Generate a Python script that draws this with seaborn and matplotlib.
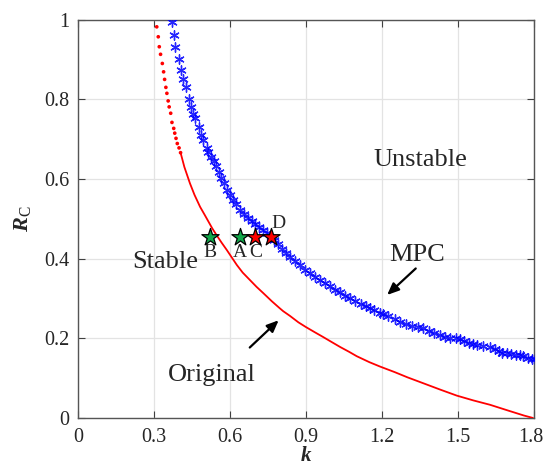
import matplotlib

matplotlib.use("Agg")
import matplotlib.pyplot as plt
import matplotlib.transforms as mtransforms
import pandas as pd
import seaborn as sns

# MPC stability boundary (blue asterisks)
mpc_k = [
    0.370, 0.378, 0.384, 0.398, 0.407, 0.415, 0.426, 0.437, 0.446, 0.454,
    0.463, 0.476, 0.486, 0.495, 0.509, 0.514, 0.525, 0.535, 0.545, 0.555,
    0.565, 0.578, 0.590, 0.600, 0.612, 0.625, 0.640, 0.655, 0.670, 0.685,
    0.700, 0.715, 0.730, 0.745, 0.760, 0.775, 0.790, 0.805, 0.820, 0.837,
    0.855, 0.875, 0.895, 0.916, 0.935, 0.955, 0.975, 0.995, 1.015, 1.035,
    1.055, 1.074, 1.095, 1.115, 1.135, 1.153, 1.170, 1.190, 1.205, 1.225,
    1.250, 1.271, 1.295, 1.320, 1.340, 1.363, 1.385, 1.405, 1.429, 1.450,
    1.470, 1.490, 1.508, 1.525, 1.545, 1.560, 1.574, 1.600, 1.626, 1.645,
    1.660, 1.675, 1.692, 1.710, 1.730, 1.745, 1.758, 1.775, 1.790, 1.804,
]
mpc_r = [
    0.995, 0.962, 0.932, 0.900, 0.873, 0.852, 0.830, 0.800, 0.780, 0.762,
    0.752, 0.731, 0.710, 0.699, 0.677, 0.668, 0.655, 0.645, 0.632, 0.618,
    0.603, 0.590, 0.573, 0.560, 0.548, 0.537, 0.523, 0.512, 0.503, 0.494,
    0.487, 0.479, 0.472, 0.465, 0.455, 0.446, 0.437, 0.425, 0.415, 0.405,
    0.395, 0.383, 0.372, 0.363, 0.354, 0.346, 0.338, 0.330, 0.322, 0.315,
    0.307, 0.300, 0.293, 0.287, 0.280, 0.275, 0.270, 0.264, 0.261, 0.256,
    0.249, 0.242, 0.237, 0.232, 0.229, 0.225, 0.219, 0.213, 0.208, 0.204,
    0.201, 0.200, 0.199, 0.193, 0.189, 0.186, 0.183, 0.181, 0.179, 0.172,
    0.167, 0.164, 0.162, 0.160, 0.159, 0.158, 0.156, 0.151, 0.148, 0.147,
]

# Original stability boundary (red dots / line)
orig_k = [
    0.311, 0.317, 0.321, 0.326, 0.333, 0.338, 0.342, 0.347, 0.351, 0.356,
    0.360, 0.366, 0.371, 0.378, 0.382, 0.387, 0.392, 0.399, 0.405, 0.420,
    0.442, 0.460, 0.482, 0.500, 0.515, 0.530, 0.547, 0.567, 0.587, 0.607,
    0.627, 0.650, 0.679, 0.705, 0.732, 0.765, 0.797, 0.810, 0.837, 0.870,
    0.900, 0.935, 0.968, 1.000, 1.035, 1.070, 1.100, 1.150, 1.192, 1.250,
    1.300, 1.363, 1.430, 1.495, 1.560, 1.626, 1.700, 1.760, 1.795,
]
orig_r = [
    0.982, 0.957, 0.932, 0.913, 0.890, 0.869, 0.850, 0.830, 0.815, 0.796,
    0.781, 0.765, 0.742, 0.727, 0.715, 0.702, 0.689, 0.678, 0.666, 0.630,
    0.589, 0.560, 0.530, 0.510, 0.493, 0.476, 0.459, 0.440, 0.422, 0.403,
    0.384, 0.365, 0.346, 0.329, 0.313, 0.293, 0.275, 0.268, 0.256, 0.240,
    0.228, 0.215, 0.203, 0.191, 0.178, 0.166, 0.155, 0.140, 0.129, 0.115,
    0.102, 0.087, 0.071, 0.056, 0.044, 0.033, 0.018, 0.006, 0.000,
]

# operating points
point_names = ["B", "A", "C", "D"]
point_k = [0.52, 0.64, 0.70, 0.76]
point_r = [0.455, 0.455, 0.455, 0.455]
point_colors = ["#11a84a", "#11a84a", "#ff0000", "#ff0000"]

sns.set_style("whitegrid")
plt.rcParams["font.family"] = ["Liberation Serif", "DejaVu Serif"]
plt.rcParams["mathtext.fontset"] = "custom"
plt.rcParams["mathtext.rm"] = "Liberation Serif"
plt.rcParams["mathtext.it"] = "Liberation Serif:italic"
plt.rcParams["mathtext.bf"] = "Liberation Serif:bold:italic"

mpc = pd.DataFrame({"k": mpc_k, "R": mpc_r})
orig = pd.DataFrame({"k": orig_k, "R": orig_r})

fig = plt.figure(figsize=(5.45, 4.68), dpi=100)
ax = fig.add_axes([0.143, 0.107, 0.837, 0.851])

# red: separate dots on the steep part, a solid line lower down
sns.lineplot(data=orig[orig.k >= 0.40], x="k", y="R", color="red",
             linewidth=1.3, ax=ax, zorder=3)
sns.scatterplot(data=orig[orig.k <= 0.41], x="k", y="R", color="red", s=7,
                edgecolor="none", ax=ax, zorder=3)

sns.scatterplot(data=mpc, x="k", y="R", marker=(6, 2, 0), color="#0000ff",
                s=45, linewidth=1.0, alpha=0.85, ax=ax, zorder=4)

for name, kk, rr, cc in zip(point_names, point_k, point_r, point_colors):
    ax.scatter(kk, rr, marker="*", s=170, color=cc, edgecolor="black",
               linewidth=0.9, zorder=6)

fs_pt = 14
ax.text(0.52, 0.416, "B", fontsize=fs_pt, ha="center", va="center")
ax.text(0.64, 0.416, "A", fontsize=fs_pt, ha="center", va="center")
ax.text(0.70, 0.416, "C", fontsize=fs_pt, ha="center", va="center")
ax.text(0.79, 0.488, "D", fontsize=fs_pt, ha="center", va="center")

ax.text(1.35, 0.648, "Unstable", fontsize=19, ha="center", va="center")
ax.text(0.345, 0.392, "Stable", fontsize=19, ha="center", va="center")
ax.text(1.34, 0.41, "MPC", fontsize=19, ha="center", va="center")
ax.text(0.53, 0.108, "Original", fontsize=19, ha="center", va="center")

arrow = dict(arrowstyle="-|>,head_length=0.7,head_width=0.3",
             color="black", lw=1.6)
ax.annotate("", xy=(1.212, 0.304), xytext=(1.341, 0.380), arrowprops=arrow)
ax.annotate("", xy=(0.80, 0.250), xytext=(0.67, 0.172), arrowprops=arrow)

ax.set_xlim(0, 1.8)
ax.set_ylim(0, 1)
ax.set_xticks([0, 0.3, 0.6, 0.9, 1.2, 1.5, 1.8])
ax.set_xticklabels(["0", "0.3", "0.6", "0.9", "1.2", "1.5", "1.8"])
ax.set_yticks([0, 0.2, 0.4, 0.6, 0.8, 1.0])
ax.set_yticklabels(["0", "0.2", "0.4", "0.6", "0.8", "1"])
ax.set_xlabel(r"$\mathbf{k}$", fontsize=15, labelpad=0)
ax.set_ylabel(r"$\mathbf{R}_{\mathrm{C}}$", fontsize=16, labelpad=8)

ax.grid(True, color="#e3e3e3", linewidth=0.9)
ax.tick_params(direction="in", length=5, width=0.8, colors="#404040",
               labelsize=14.5, labelcolor="#262626", top=True, right=True,
               bottom=True, left=True)
ax.tick_params(axis="x", pad=7)
ax.tick_params(axis="y", pad=6)
for spine in ax.spines.values():
    spine.set_color("#555555")
    spine.set_linewidth(1.0)

# keep the last x tick label inside the figure edge
last = ax.get_xticklabels()[-1]
last.set_transform(last.get_transform()
                   + mtransforms.ScaledTranslation(-3 / 100, 0, fig.dpi_scale_trans))

fig.savefig("out.png", dpi=100, facecolor="white")
